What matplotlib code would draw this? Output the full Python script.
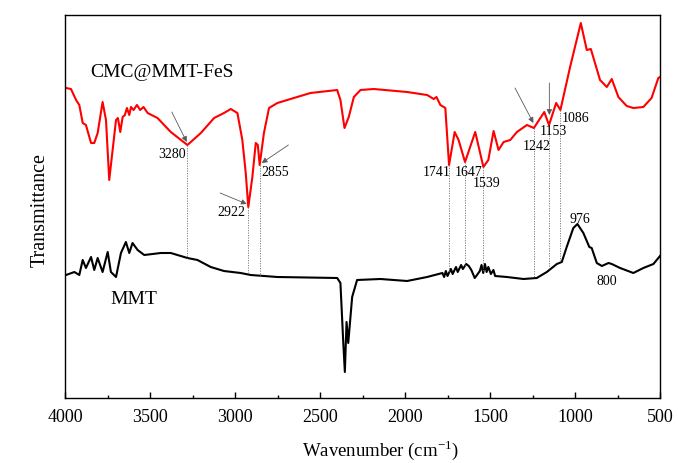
import numpy as np
import matplotlib
matplotlib.use("Agg")
import matplotlib.pyplot as plt

plt.rcParams["font.family"] = ["Liberation Serif", "DejaVu Serif"]
plt.rcParams["mathtext.fontset"] = "custom"
plt.rcParams["mathtext.rm"] = "Liberation Serif"

# FTIR spectra (wavenumber in cm-1, transmittance a.u.)
red_w = [3994, 3965, 3935, 3916, 3896, 3877, 3847, 3828, 3808, 3779, 3759, 3740,
         3720, 3700, 3689, 3675, 3661, 3648, 3636, 3622, 3612, 3597, 3577, 3558,
         3538, 3514, 3456, 3378, 3280, 3201, 3123, 3065, 3025, 2986, 2957, 2937,
         2922, 2898, 2878, 2866, 2855, 2830, 2800, 2751, 2654, 2556, 2399, 2380,
         2356, 2331, 2301, 2262, 2184, 1988, 1910, 1870, 1831, 1815, 1792, 1763,
         1741, 1708, 1685, 1647, 1587, 1539, 1510, 1479, 1450, 1420, 1381, 1342,
         1283, 1242, 1181, 1153, 1111, 1086, 1029, 966, 931, 907, 853, 813, 784,
         745, 696, 657, 598, 550, 510, 500]
red_t = [310, 309, 298, 293, 275, 273, 255, 255, 265, 296, 278, 218,
         248, 278, 280, 266, 281, 283, 290, 283, 291, 288, 293, 288,
         291, 285, 280, 266, 253, 265, 280, 285, 289, 285, 258, 225,
         191, 221, 255, 253, 233, 265, 290, 295, 300, 305, 308, 298,
         270, 281, 301, 308, 309, 306, 304, 303, 299, 301, 293, 290,
         233, 266, 258, 236, 266, 231, 238, 267, 248, 256, 258, 266,
         273, 270, 286, 273, 295, 288, 331, 375, 348, 349, 318, 311, 319,
         301, 292, 290, 291, 300, 320, 321]

black_w = [3994, 3945, 3916, 3896, 3877, 3847, 3828, 3808, 3779, 3749, 3730, 3700,
           3671, 3642, 3622, 3603, 3573, 3534, 3436, 3378, 3280, 3221, 3143, 3065,
           2967, 2908, 2751, 2399, 2380, 2364, 2354, 2344, 2334, 2311, 2282, 2145,
           1988, 1870, 1780, 1770, 1760, 1750, 1730, 1720, 1700, 1690, 1670, 1660,
           1640, 1625, 1610, 1590, 1581, 1560, 1550, 1540, 1530, 1520, 1510, 1495,
           1480, 1470, 1401, 1303, 1225, 1166, 1107, 1078, 1049, 1010, 986, 951,
           916, 902, 872, 842, 803, 784, 735, 657, 598, 539, 500]
black_t = [123, 126, 123, 138, 130, 141, 128, 140, 126, 146, 126, 121,
           145, 156, 145, 155, 148, 143, 145, 145, 140, 138, 131, 127,
           125, 123, 121, 120, 115, 58, 26, 76, 55, 101, 118, 119,
           117, 121, 125, 121, 127, 122, 129, 124, 131, 126, 133, 129,
           134, 132, 128, 120, 122, 127, 133, 125, 134, 126, 131, 124,
           128, 122, 121, 119, 120, 126, 134, 136, 151, 170, 174, 165,
           151, 150, 135, 132, 135, 134, 130, 125, 130, 134, 142]

peaks = [3280, 2922, 2855, 1741, 1647, 1539, 1242, 1153, 1086]
peak_labels = ["3280", "2922", "2855", "1741", "1647", "1539", "1242", "1153", "1086"]
label_x = [3372, 3019, 2765, 1814, 1628, 1519, 1225, 1128, 996]
label_y = [243, 185, 225, 225, 225, 214, 251, 266, 279]

fig = plt.figure(figsize=(6.78, 4.63), dpi=100)
ax = fig.add_axes([0.0959, 0.1404, 0.8776, 0.8272])

ax.plot(red_w, red_t, color="#ff0000", lw=1.5)
ax.plot(black_w, black_t, color="black", lw=1.5)

# dotted guides from the red band down to the black curve
rw, rt = np.array(red_w[::-1]), np.array(red_t[::-1])
bw, bt = np.array(black_w[::-1]), np.array(black_t[::-1])
for p in peaks:
    ax.plot([p, p], [np.interp(p, rw, rt), np.interp(p, bw, bt)],
            color="0.45", lw=0.6, ls=(0, (1.5, 1.5)))

for txt, x, y in zip(peak_labels, label_x, label_y):
    ax.text(x, y, txt, fontsize=10, ha="center", va="center")

arrows = [((3372, 286), (3284, 256)),
          ((3088, 205), (2931, 194)),
          ((2686, 253), (2843, 235)),
          ((1353, 310), (1245, 275)),
          ((1151, 315), (1151, 283))]
for start, end in arrows:
    ax.annotate("", xy=end, xytext=start,
                arrowprops=dict(arrowstyle="-|>", color="0.35", lw=0.6,
                                mutation_scale=8, shrinkA=0, shrinkB=0))

ax.text(971, 178, "976", fontsize=10, ha="center", va="center")
ax.text(814, 116, "800", fontsize=10, ha="center", va="center")
ax.text(3853, 326, "CMC@MMT-FeS", fontsize=14, ha="left", va="center")
ax.text(3735, 98, "MMT", fontsize=14, ha="left", va="center")

ax.set_xlim(4000, 500)
ax.set_ylim(0, 383)
ax.set_xticks([4000, 3500, 3000, 2500, 2000, 1500, 1000, 500])
ax.set_xticks(np.arange(3750, 500, -500), minor=True)
ax.set_yticks([])
ax.tick_params(axis="x", which="major", direction="in", length=4, width=1,
               labelsize=13, pad=8, top=False)
ax.tick_params(axis="x", which="minor", direction="in", length=2, width=1, top=False)
for s in ax.spines.values():
    s.set_linewidth(1.0)

ax.set_xlabel("Wavenumber (cm$^{\\mathregular{-1}}$)", fontsize=13.5)
ax.xaxis.set_label_coords(0.53, -0.105)
ax.set_ylabel("Transmittance", fontsize=14.5)
ax.yaxis.set_label_coords(-0.025, 0.49)

fig.savefig("out.png", dpi=100)
